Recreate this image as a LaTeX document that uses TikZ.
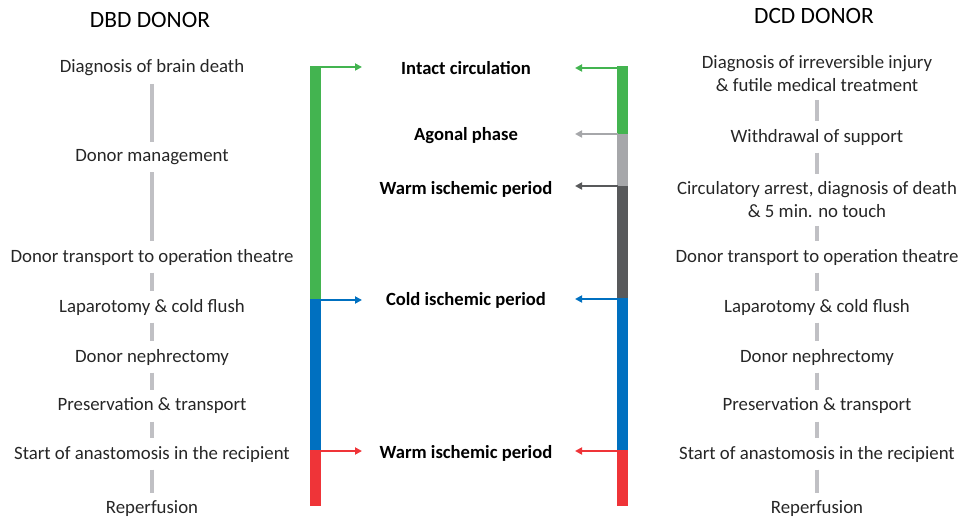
\documentclass[tikz,border=0pt]{standalone}
\usepackage{fontspec}
\setmainfont{Carlito}
\usetikzlibrary{arrows.meta}
\definecolor{circgreen}{HTML}{43B450}
\definecolor{coldblue}{HTML}{0070C0}
\definecolor{warmred}{HTML}{EF3438}
\definecolor{agonalgray}{HTML}{A6A7AA}
\definecolor{wipgray}{HTML}{58595B}
\definecolor{linkgray}{HTML}{C0C0C4}

\begin{document}
\begin{tikzpicture}[x=1pt, y=-1pt,
   stage/.style={align=center, text=black!85, font=\fontsize{18.8}{23}\selectfont, inner sep=1pt},
   period/.style={font=\bfseries\fontsize{18.6}{22}\selectfont},
   head/.style={font=\fontsize{23.4}{28}\selectfont},
   link/.style={draw=linkgray, line width=3.5pt, shorten <=6.5pt, shorten >=6.5pt},
   arr/.style={-{Triangle[length=7pt, width=7pt]}, line width=2pt}]

  \useasboundingbox (0,0) rectangle (966,518);

  % DBD donor
  \node[head] (dbd) at (150,20) {DBD DONOR};
  \node[stage] (b1) at (152,68)  {Diagnosis of brain death};
  \node[stage] (b2) at (152,157) {Donor management};
  \node[stage] (b3) at (152,257) {Donor transport to operation theatre};
  \node[stage] (b4) at (152,307) {Laparotomy \& cold flush};
  \node[stage] (b5) at (152,357) {Donor nephrectomy};
  \node[stage] (b6) at (152,406) {Preservation \& transport};
  \node[stage] (b7) at (152,454) {Start of anastomosis in the recipient};
  \node[stage] (b8) at (152,509) {Reperfusion};

  % DCD donor
  \node[head] (dcd) at (814,16) {DCD DONOR};
  \node[stage] (c1) at (817,74)  {Diagnosis of irreversible injury\\\& futile medical treatment};
  \node[stage] (c2) at (817,137) {Withdrawal of support};
  \node[stage] (c3) at (817,200) {Circulatory arrest, diagnosis of death\\\& 5 min. no touch};
  \node[stage] (c4) at (817,257) {Donor transport to operation theatre};
  \node[stage] (c5) at (817,307) {Laparotomy \& cold flush};
  \node[stage] (c6) at (817,357) {Donor nephrectomy};
  \node[stage] (c7) at (817,406) {Preservation \& transport};
  \node[stage] (c8) at (817,454) {Start of anastomosis in the recipient};
  \node[stage] (c9) at (817,509) {Reperfusion};

  \foreach \a/\b in {b1/b2, b2/b3, b3/b4, b4/b5, b5/b6, b6/b7, b7/b8,
                     c1/c2, c2/c3, c3/c4, c4/c5, c5/c6, c6/c7, c7/c8, c8/c9}
    \draw[link] (\a) -- (\b);

  % periods
  \node[period] (intact) at (466,68)  {Intact circulation};
  \node[period] (agonal) at (466,136) {Agonal phase};
  \node[period] (wip1)   at (466,189) {Warm ischemic period};
  \node[period] (cip)    at (466,300) {Cold ischemic period};
  \node[period] (wip2)   at (466,453) {Warm ischemic period};

  % time bars
  \fill[circgreen] (310,66) rectangle (321,299);
  \fill[coldblue]  (310,299) rectangle (321,450);
  \fill[warmred]   (310,450) rectangle (321,506);

  \fill[circgreen]  (617,66) rectangle (628,134);
  \fill[agonalgray] (617,134) rectangle (628,186);
  \fill[wipgray]    (617,186) rectangle (628,298);
  \fill[coldblue]   (617,298) rectangle (628,450);
  \fill[warmred]    (617,450) rectangle (628,506);

  \coordinate (lb1) at (320,67);   \coordinate (lt1) at (362,67);
  \coordinate (lb2) at (320,300);  \coordinate (lt2) at (362,300);
  \coordinate (lb3) at (320,451);  \coordinate (lt3) at (362,451);
  \coordinate (rb1) at (618,68);   \coordinate (rt1) at (575,68);
  \coordinate (rb2) at (618,134);  \coordinate (rt2) at (575,134);
  \coordinate (rb3) at (618,186);  \coordinate (rt3) at (575,186);
  \coordinate (rb4) at (618,299);  \coordinate (rt4) at (575,299);
  \coordinate (rb5) at (618,451);  \coordinate (rt5) at (575,451);

  \draw[arr, circgreen] (lb1) -- (lt1);
  \draw[arr, coldblue]  (lb2) -- (lt2);
  \draw[arr, warmred]   (lb3) -- (lt3);
  \draw[arr, circgreen]  (rb1) -- (rt1);
  \draw[arr, agonalgray] (rb2) -- (rt2);
  \draw[arr, wipgray]    (rb3) -- (rt3);
  \draw[arr, coldblue]   (rb4) -- (rt4);
  \draw[arr, warmred]    (rb5) -- (rt5);
\end{tikzpicture}
\end{document}
